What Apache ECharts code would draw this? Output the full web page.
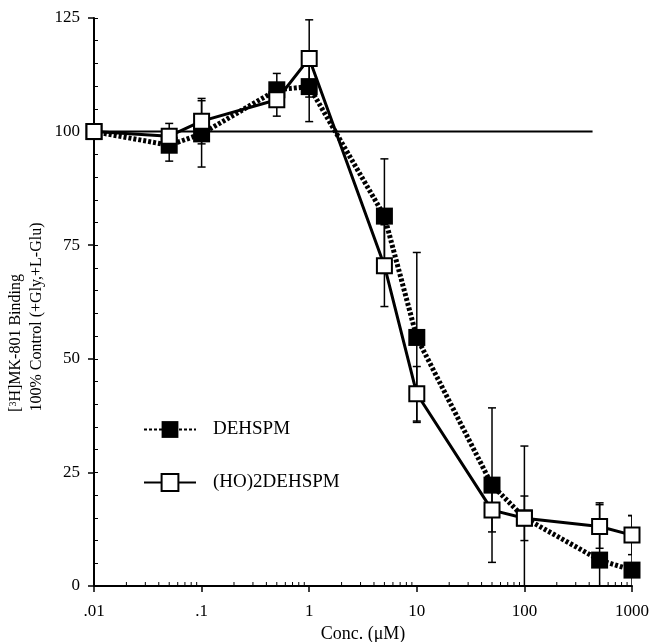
<!DOCTYPE html>
<html>
<head>
<meta charset="utf-8">
<script src="https://cdn.jsdelivr.net/npm/echarts@6/dist/echarts.min.js"></script>
<style>html,body{margin:0;padding:0;background:#fff;}#c{width:652px;height:642px;}</style>
</head>
<body>
<div id="c"></div>
<script>
// ---- data ----
var conc = [0.01, 0.05, 0.1, 0.5, 1, 5, 10, 50, 100, 500, 1000];
var dehspm = [100, 97, 99.5, 109.2, 109.9, 81.4, 54.7, 22.2, 15, 5.7, 3.5];
var dehspmErr = [0, 3.5, 7.3, 3.6, 7.7, 12.6, 18.7, 17, 15.8, 12.6, 12];
var ho2 = [100, 99, 102.3, 107, 116.1, 70.5, 42.3, 16.7, 14.9, 13.1, 11.2];
var ho2Err = [0, 2.8, 5, 3.6, 8.5, 9, 6, 4.8, 4.9, 4.8, 4.3];
var refLineX = [0.01, 430];
var refLineY = [100, 100];
var xTickLabels = {'-2': '.01', '-1': '.1', '0': '1', '1': '10', '2': '100', '3': '1000'};
var xMinorTicks = [0.02,0.03,0.04,0.05,0.06,0.07,0.08,0.09,
                   0.2,0.3,0.4,0.5,0.6,0.7,0.8,0.9,
                   2,3,4,5,6,7,8,9,
                   20,30,40,50,60,70,80,90,
                   200,300,400,500,600,700,800,900];

var FONT = '"Liberation Serif", "Times New Roman", serif';

function pairs(xs, ys) { return xs.map(function (x, i) { return [x, ys[i]]; }); }
function triples(xs, ys, es) { return xs.map(function (x, i) { return [x, ys[i], es[i]]; }); }

function errRender(params, api) {
  var x = api.value(0), y = api.value(1), e = api.value(2);
  if (!e) return null;
  var top = api.coord([x, y + e]);
  var bot = api.coord([x, y - e]);
  var hw = 4;
  var st = { stroke: '#000', lineWidth: 1.5 };
  return {
    type: 'group',
    children: [
      { type: 'line', shape: { x1: top[0], y1: top[1], x2: bot[0], y2: bot[1] }, style: st },
      { type: 'line', shape: { x1: top[0] - hw, y1: top[1], x2: top[0] + hw, y2: top[1] }, style: st },
      { type: 'line', shape: { x1: bot[0] - hw, y1: bot[1], x2: bot[0] + hw, y2: bot[1] }, style: st }
    ]
  };
}

function minorTickRender(params, api) {
  var p = api.coord([api.value(0), 0]);
  return { type: 'line', shape: { x1: p[0], y1: p[1], x2: p[0], y2: p[1] - 4 }, style: { stroke: '#000', lineWidth: 1 } };
}

var chart = echarts.init(document.getElementById('c'));
chart.setOption({
  animation: false,
  backgroundColor: '#fff',
  grid: { left: 94, right: 20, top: 18, bottom: 56, containLabel: false, outerBoundsMode: 'none' },
  legend: {
    orient: 'vertical',
    left: 143, top: 420, padding: 0,
    itemWidth: 52, itemHeight: 21, itemGap: 34,
    selectedMode: false,
    data: ['DEHSPM', '(HO)2DEHSPM'],
    textStyle: { fontFamily: FONT, fontSize: 19, color: '#000', padding: [0, 0, 0, 12] }
  },
  xAxis: [{
    type: 'log', logBase: 10, min: 0.01, max: 1000,
    axisLine: { lineStyle: { color: '#000', width: 2 } },
    axisTick: { show: true, length: 6, lineStyle: { color: '#000', width: 1.5 } },
    splitLine: { show: false },
    axisLabel: {
      fontFamily: FONT, fontSize: 17, color: '#000', margin: 17,
      formatter: function (v) { var k = Math.round(Math.log10(v)); return xTickLabels[String(k)] || ''; }
    },
    name: 'Conc. (\u03bcM)', nameLocation: 'middle', nameGap: 37,
    nameTextStyle: { fontFamily: FONT, fontSize: 18, color: '#000' }
  }],
  yAxis: [{
    type: 'value', min: 0, max: 125, interval: 25,
    axisLine: { show: true, lineStyle: { color: '#000', width: 2 } },
    axisTick: { show: true, length: 6, lineStyle: { color: '#000', width: 1.5 } },
    splitLine: { show: false },
    axisLabel: { fontFamily: FONT, fontSize: 17, color: '#000', margin: 14 }
  }, {
    type: 'value', min: 0, max: 125, interval: 5, position: 'left', offset: 0,
    axisLine: { show: false },
    axisTick: { show: true, inside: true, length: 4, lineStyle: { color: '#000', width: 1 } },
    axisLabel: { show: false },
    splitLine: { show: false }
  }],
  graphic: [
    {
      type: 'text', x: 16, y: 343, rotation: Math.PI / 2,
      style: {
        text: '{a|[}{s|3}{a|H]MK-801 Binding}',
        align: 'center', verticalAlign: 'middle',
        rich: {
          a: { fontFamily: FONT, fontSize: 16, fill: '#000' },
          s: { fontFamily: FONT, fontSize: 10, fill: '#000', verticalAlign: 'top', padding: [0, 0, 6, 0] }
        }
      }
    },
    {
      type: 'text', x: 37, y: 317, rotation: Math.PI / 2,
      style: {
        text: '100% Control (+Gly,+L-Glu)',
        font: '16px ' + FONT, fill: '#000',
        align: 'center', verticalAlign: 'middle'
      }
    }
  ],
  series: [
    {
      name: 'ref', type: 'line', data: pairs(refLineX, refLineY),
      symbol: 'none', lineStyle: { color: '#000', width: 2 }, z: 1, silent: true
    },
    {
      name: 'minorTicks', type: 'custom', data: xMinorTicks.map(function (v) { return [v, 0]; }),
      renderItem: minorTickRender, z: 1, silent: true
    },
    {
      name: 'errD', type: 'custom', data: triples(conc, dehspm, dehspmErr),
      renderItem: errRender, clip: true, z: 2, silent: true
    },
    {
      name: 'errH', type: 'custom', data: triples(conc, ho2, ho2Err),
      renderItem: errRender, clip: true, z: 2, silent: true
    },
    {
      name: 'DEHSPM', type: 'line', data: pairs(conc, dehspm),
      symbol: 'rect', symbolSize: 17,
      lineStyle: { color: '#000', width: 5, type: [3, 2] },
      itemStyle: { color: '#000', borderColor: '#000', borderWidth: 0 },
      z: 3, emphasis: { disabled: true }
    },
    {
      name: '(HO)2DEHSPM', type: 'line', data: pairs(conc, ho2),
      symbol: 'rect', symbolSize: 15,
      lineStyle: { color: '#000', width: 3 },
      itemStyle: { color: '#fff', borderColor: '#000', borderWidth: 2 },
      z: 4, emphasis: { disabled: true }
    }
  ]
});
</script>
</body>
</html>
